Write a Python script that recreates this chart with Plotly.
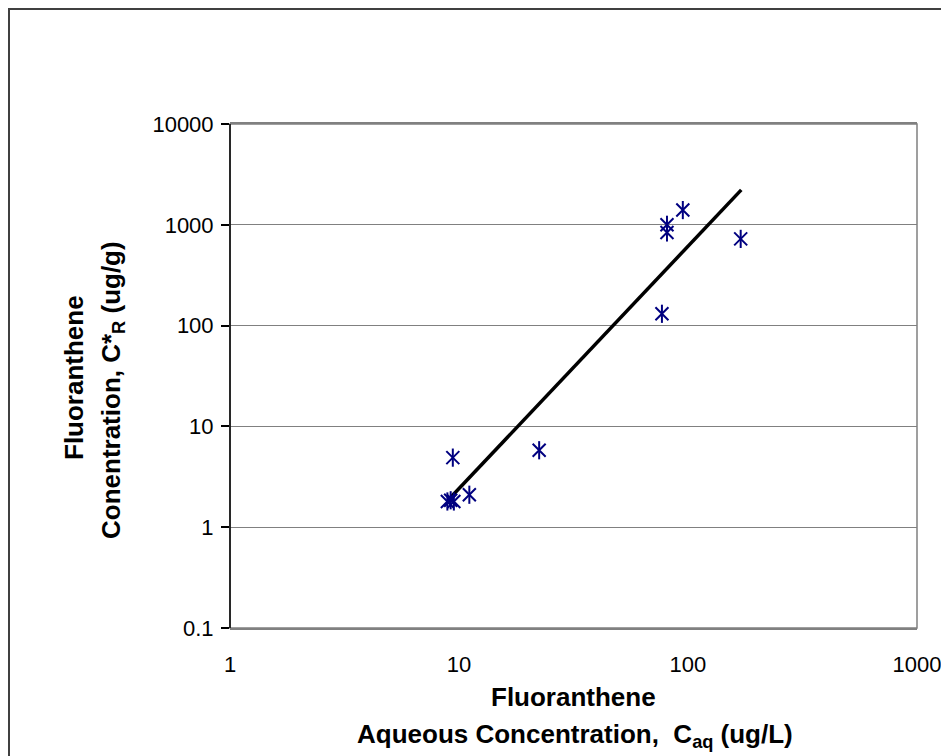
import plotly.graph_objects as go

# Measured data points (aqueous conc ug/L, sorbed conc ug/g)
c_aq = [8.9, 9.2, 9.5, 9.4, 11.1, 22.4, 77, 81, 81, 95, 170]
c_r = [1.8, 1.85, 1.8, 4.9, 2.1, 5.8, 131, 1000, 840, 1400, 725]

# Fitted line endpoints
fit_x = [8.95, 171]
fit_y = [1.85, 2220]

x_ticks = [1, 10, 100, 1000]
y_ticks = [0.1, 1, 10, 100, 1000, 10000]

FONT = "Arial, Liberation Sans, sans-serif"
NAVY = "#000080"

fig = go.Figure()

fig.add_trace(go.Scatter(x=fit_x, y=fit_y, mode="lines",
                         line=dict(color="black", width=3.5),
                         showlegend=False, hoverinfo="skip"))
for sym in ["x-thin-open", "line-ns-open"]:
    fig.add_trace(go.Scatter(x=c_aq, y=c_r, mode="markers",
                             marker=dict(symbol=sym, size=13,
                                         line=dict(color=NAVY, width=2),
                                         color=NAVY),
                             showlegend=False))

L, R, T, B = 230, 917, 124, 628
W, H = 941, 756
pw, ph = R - L, B - T

def px(x):
    return (x - L) / pw

def py(y):
    return (B - y) / ph

fig.update_layout(
    width=W, height=H,
    margin=dict(l=L, r=W - R, t=T, b=H - B, pad=0, autoexpand=False),
    paper_bgcolor="white", plot_bgcolor="white",
    font=dict(family=FONT, color="black", size=22),
    xaxis=dict(type="log", range=[0, 3.0005], tickvals=x_ticks,
               ticktext=[str(v) for v in x_ticks],
               showgrid=False, zeroline=False, automargin=False,
               showline=True, linecolor="#808080", linewidth=1.5,
               mirror=True, ticks="", ticklabelstandoff=16,
               ticklabeloverflow="allow",
               tickfont=dict(size=22, family=FONT)),
    yaxis=dict(type="log", range=[-1, 4], tickvals=y_ticks,
               ticktext=[("%g" % v) for v in y_ticks],
               showgrid=True, gridcolor="#808080", gridwidth=1,
               zeroline=False, showline=False, automargin=False,
               ticks="outside", ticklen=8, tickcolor="black", tickwidth=1.5,
               ticklabelstandoff=3,
               tickfont=dict(size=22, family=FONT)),
    shapes=[
        # plot area frame
        dict(type="rect", xref="paper", yref="paper", x0=0, x1=1, y0=0, y1=1,
             line=dict(color="#808080", width=1.5), layer="below"),
        # y axis line (black)
        dict(type="line", xref="paper", yref="paper", x0=0, x1=0, y0=0, y1=1,
             line=dict(color="black", width=1.5)),
        # outer chart border
        dict(type="rect", xref="paper", yref="paper",
             x0=px(9), x1=px(960), y0=py(775), y1=py(9),
             line=dict(color="#404040", width=2)),
    ],
    annotations=[
        dict(text="<b>Fluoranthene</b>", xref="paper", yref="paper",
             x=px(573), y=py(697), showarrow=False, xanchor="center", yanchor="middle",
             font=dict(size=26, family=FONT)),
        dict(text="<b>Aqueous Concentration,  C<sub>aq</sub> (ug/L)</b>", xref="paper", yref="paper",
             x=px(575), y=py(735), showarrow=False, xanchor="center", yanchor="middle",
             font=dict(size=26, family=FONT)),
        dict(text="<b>Fluoranthene</b>", xref="paper", yref="paper",
             x=px(74), y=py(378), showarrow=False, xanchor="center", yanchor="middle",
             textangle=-90, font=dict(size=26, family=FONT)),
        dict(text="<b>Conentration, C*<sub>R</sub> (ug/g)</b>", xref="paper", yref="paper",
             x=px(112), y=py(390), showarrow=False, xanchor="center", yanchor="middle",
             textangle=-90, font=dict(size=26, family=FONT)),
    ],
)

fig.write_html("out.html")
